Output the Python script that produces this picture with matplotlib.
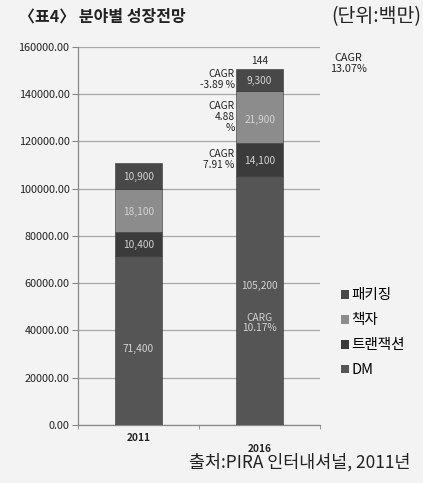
import numpy as np
import matplotlib.pyplot as plt
from matplotlib.patches import Patch
import matplotlib.transforms as mtransforms

plt.rcParams['font.family'] = ['Noto Sans CJK KR', 'DejaVu Sans']

years = ['2011', '2016']
series = ['DM', '트랜잭션', '책자', '패키징']
values = {
    'DM': [71400, 105200],
    '트랜잭션': [10400, 14100],
    '책자': [18100, 21900],
    '패키징': [10900, 9300],
}
colors = {
    'DM': '#555555',
    '트랜잭션': '#3b3b3b',
    '책자': '#8c8c8c',
    '패키징': '#484848',
}
yticks = np.arange(0, 160001, 20000)
top_note = '144'
cagr_total = 'CAGR\n13.07%'
cagr_notes = ['CARG\n10.17%', 'CAGR\n7.91 %', 'CAGR\n4.88\n%', 'CAGR\n-3.89 %']

bg = '#f3f3f3'
fig = plt.figure(figsize=(4.23, 4.83), dpi=100, facecolor=bg)
ax = fig.add_axes([0.184, 0.120, 0.573, 0.783])
ax.set_facecolor(bg)

x = np.arange(len(years))
width = 0.39
bottom = np.zeros(len(years))
for name in series:
    v = np.array(values[name])
    ax.bar(x, v, width, bottom=bottom, color=colors[name], edgecolor='#333333',
           linewidth=0.4, zorder=3)
    for i in range(len(years)):
        label = f'{v[i]:,}'
        frac = 0.56 if (name == 'DM' and i == 1) else 0.45
        ax.text(x[i], bottom[i] + v[i] * frac, label, ha='center', va='center',
                color='#d4d4d4', fontsize=7.3, zorder=4)
    bottom = bottom + v

# notes around the 2016 bar
ax.text(x[1], bottom[1] + 1500, top_note, ha='center', va='bottom', fontsize=7.3, color='#222222')
dm16 = values['DM'][1]
ax.text(x[1], dm16 * 0.41, cagr_notes[0], ha='center', va='center', fontsize=7.3,
        color='#d4d4d4', zorder=4, linespacing=1.1)
lefts = [values['DM'][1] + values['트랜잭션'][1] * 0.5,
         values['DM'][1] + values['트랜잭션'][1] + values['책자'][1] * 0.5,
         bottom[1] - values['패키징'][1] * 0.45]
for note, yy in zip(cagr_notes[1:], lefts):
    ax.text(x[1] - width / 2 - 0.01, yy, note, ha='right', va='center', fontsize=7.3,
            color='#222222', linespacing=1.1)
ax.text(1.73, bottom[1] + 2500, cagr_total, ha='center', va='center', fontsize=7.8,
        color='#222222', linespacing=1.1, clip_on=False)

ax.set_ylim(0, 160000)
ax.set_xlim(-0.5, 1.5)
ax.set_yticks(yticks)
ax.set_yticklabels([f'{t:.2f}' for t in yticks], fontsize=7.8, fontweight='medium',
                   color='#222222')
ax.yaxis.grid(True, color='#a8a8a8', linewidth=0.9, zorder=0)
ax.set_xticks([])
ax.set_xticks([-0.5, 0.5, 1.5], minor=True)
ax.tick_params(axis='x', which='minor', length=3, color='#888888', direction='out')
ax.tick_params(axis='y', length=4, color='#888888', pad=2)
for s in ['top', 'right']:
    ax.spines[s].set_visible(False)
for s in ['left', 'bottom']:
    ax.spines[s].set_color('#888888')
    ax.spines[s].set_linewidth(0.9)

trans = mtransforms.blended_transform_factory(ax.transData, ax.transAxes)
ax.text(x[0], -0.034, years[0], transform=trans, ha='center', va='center',
        fontsize=7.3, fontweight='bold', color='#222222')
ax.text(x[1], -0.064, years[1], transform=trans, ha='center', va='center',
        fontsize=7.3, fontweight='bold', color='#222222')

handles = [Patch(facecolor=colors[n]) for n in series[::-1]]
fig.legend(handles, series[::-1], loc='upper left', bbox_to_anchor=(0.775, 0.43),
           frameon=False, fontsize=10.5, handlelength=0.55, handleheight=0.55,
           handletextpad=0.15, labelspacing=0.75)

fig.text(0.045, 0.965, '〈표4〉 분야별 성장전망', fontsize=11.5, fontweight='bold',
         va='center', ha='left', color='#222222')
fig.text(0.995, 0.965, '(단위:백만)', fontsize=14, va='center', ha='right', color='#222222')
fig.text(0.97, 0.043, '출처:PIRA 인터내셔널, 2011년', fontsize=12.5, va='center',
         ha='right', color='#222222')

fig.savefig('out.png', dpi=100, facecolor=bg)
